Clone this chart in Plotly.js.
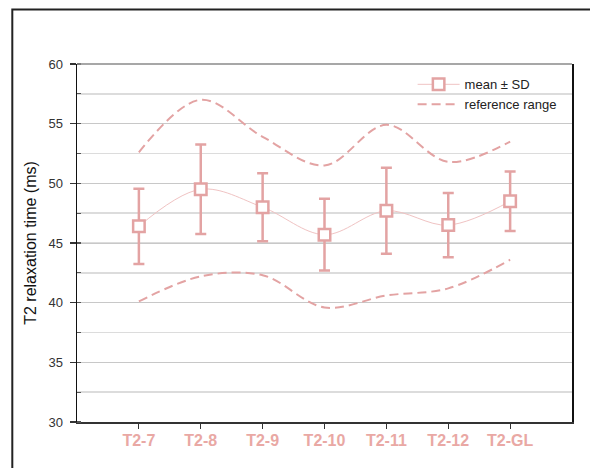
<!DOCTYPE html>
<html>
<head>
<meta charset="utf-8">
<script src="https://cdn.plot.ly/plotly-3.0.1.min.js"></script>
<style>
  html, body { margin: 0; padding: 0; background: #ffffff; }
  #chart { width: 590px; height: 468px; }
</style>
</head>
<body>
<div id="chart"></div>
<script>
// Segments measured
const segments = ['T2-7', 'T2-8', 'T2-9', 'T2-10', 'T2-11', 'T2-12', 'T2-GL'];

// T2 relaxation time per segment (ms)
const meanT2 = [46.4, 49.5, 48.0, 45.7, 47.7, 46.5, 48.5];
const sdT2   = [3.15, 3.75, 2.85, 3.0, 3.6, 2.7, 2.5];

// Reference range bounds (ms)
const refUpper = [52.6, 57.0, 53.9, 51.5, 54.9, 51.8, 53.5];
const refLower = [40.1, 42.2, 42.3, 39.6, 40.6, 41.2, 43.6];

const pink = '#e3a3a3';
const paleLine = '#f0c3c3';

const traces = [
  {
    x: segments, y: meanT2, name: 'mean ± SD',
    type: 'scatter', mode: 'lines+markers',
    line: { color: paleLine, width: 1, shape: 'spline', smoothing: 1 },
    marker: { symbol: 'square', size: 11.5, color: '#ffffff', line: { color: pink, width: 2.5 } },
    error_y: { type: 'data', array: sdT2, visible: true, color: pink, thickness: 2.5, width: 5.5 }
  },
  {
    x: segments, y: refUpper, name: 'reference range', legendgroup: 'ref',
    type: 'scatter', mode: 'lines',
    line: { color: pink, width: 2, dash: '9px,5px', shape: 'spline', smoothing: 1 }
  },
  {
    x: segments, y: refLower, name: 'reference range', legendgroup: 'ref', showlegend: false,
    type: 'scatter', mode: 'lines',
    line: { color: pink, width: 2, dash: '9px,5px', shape: 'spline', smoothing: 1 }
  }
];

const layout = {
  width: 590, height: 468,
  margin: { l: 77, r: 18, t: 64, b: 46, pad: 0 },
  paper_bgcolor: '#ffffff', plot_bgcolor: '#ffffff',
  font: { family: 'Liberation Sans, Arial, sans-serif', color: '#222222' },
  showlegend: true,
  legend: {
    x: 0.678, y: 0.985, xanchor: 'left', yanchor: 'top',
    bgcolor: 'rgba(0,0,0,0)', borderwidth: 0,
    font: { size: 13, color: '#222222' },
    tracegroupgap: 0, itemwidth: 42
  },
  xaxis: {
    type: 'category', range: [-1, 7],
    showgrid: false, zeroline: false,
    showline: true, linecolor: '#333333', linewidth: 1.5,
    ticks: 'outside', ticklen: 5, tickwidth: 1.2, tickcolor: '#333333',
    tickfont: { size: 16, color: '#e9a8a4', family: 'Liberation Sans, Arial, sans-serif', weight: 'bold' },
    ticklabelstandoff: -2
  },
  yaxis: {
    range: [30, 60], tick0: 30, dtick: 5,
    showgrid: true, gridcolor: '#c8c8c8', gridwidth: 1,
    zeroline: false,
    showline: true, linecolor: '#111111', linewidth: 1.5, mirror: true,
    ticks: 'outside', ticklen: 6, tickwidth: 1.2, tickcolor: '#333333',
    tickfont: { size: 13, color: '#333333' },
    ticklabelstandoff: 4,
    minor: { dtick: 2.5, showgrid: true, gridcolor: '#dcdcdc', gridwidth: 1.5, ticks: 'inside', ticklen: 4, tickcolor: '#555555' },
    title: { text: 'T2 relaxation time (ms)', font: { size: 16, color: '#111111' }, standoff: 8 }
  },
  shapes: [
    // top edge of the plotting area
    { type: 'line', xref: 'paper', yref: 'paper', x0: 0, x1: 1, y0: 1, y1: 1,
      line: { color: '#8a8a8a', width: 1.5 } },
    // outer frame
    { type: 'rect', xref: 'paper', yref: 'paper', x0: -0.1307, x1: 1.2, y0: -0.3, y1: 1.152,
      line: { color: '#222222', width: 2 }, fillcolor: 'rgba(0,0,0,0)' }
  ]
};

Plotly.newPlot('chart', traces, layout, { staticPlot: true, displayModeBar: false });
</script>
</body>
</html>
